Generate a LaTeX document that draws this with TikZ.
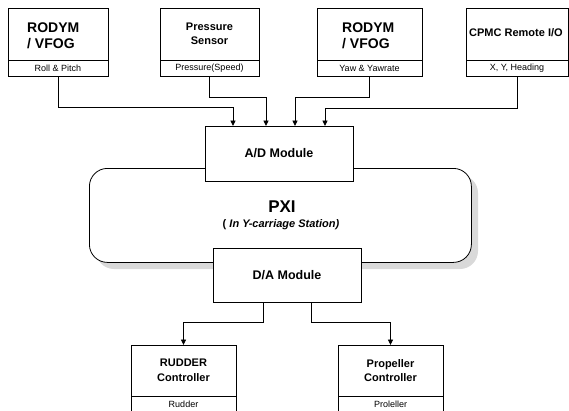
\documentclass[tikz,border=0pt]{standalone}
\usepackage{fontspec}
\setmainfont{Liberation Sans}
\usetikzlibrary{arrows.meta,positioning,calc}
\begin{document}
\begin{tikzpicture}[x=1pt,y=-1pt,
  box/.style={draw=black,line width=0.8pt,fill=white,anchor=north west,inner sep=0pt,outer sep=0pt},
  lbl/.style={font=\fontsize{9}{10}\selectfont,inner sep=0pt},
  arr/.style={line width=0.9pt,-{Triangle[length=5.5pt,width=5pt]}}
]
\useasboundingbox (0,0) rectangle (569,410);
% top boxes
\node[box,minimum width=100pt,minimum height=52pt] (b1) at (8,8) {};
\node[box,minimum width=100pt,minimum height=16pt] (s1) at (8,60) {};
\node[box,minimum width=99pt,minimum height=52pt] (b2) at (160,8) {};
\node[box,minimum width=99pt,minimum height=16pt] (s2) at (160,60) {};
\node[box,minimum width=105pt,minimum height=52pt] (b3) at (317,8) {};
\node[box,minimum width=105pt,minimum height=16pt] (s3) at (317,60) {};
\node[box,minimum width=102pt,minimum height=52pt] (b4) at (466,8) {};
\node[box,minimum width=102pt,minimum height=16pt] (s4) at (466,60) {};
% texts top
\node[anchor=west,align=left,inner sep=0pt,font=\fontsize{14}{16}\selectfont\bfseries] (t1) at (27,36) {RODYM\\/ VFOG};
\node[align=center,inner sep=0pt,font=\fontsize{11}{14}\selectfont\bfseries] (t2) at (209.5,34) {Pressure\\Sensor};
\node[anchor=west,align=left,inner sep=0pt,font=\fontsize{14}{16}\selectfont\bfseries] (t3) at (342,36) {RODYM\\/ VFOG};
\node[anchor=west,inner sep=0pt,font=\fontsize{11}{12}\selectfont\bfseries] (t4) at (469,33) {CPMC Remote I/O};
\node[lbl] at (s1.center) {Roll \& Pitch};
\node[lbl] at (s2.center) {Pressure(Speed)};
\node[lbl] at (s3.center) {Yaw \& Yawrate};
\node[lbl] at (s4.center) {X, Y, Heading};
% PXI
\fill[gray!30,rounded corners=18pt] (96,175) rectangle (478,269);
\node[draw=black,line width=0.8pt,fill=white,rounded corners=18pt,anchor=north west,inner sep=0pt,minimum width=382pt,minimum height=94pt] (pxi) at (89,168) {};
\node[inner sep=0pt,font=\fontsize{17}{20}\selectfont\bfseries] (pt) at (282,207) {PXI};
\node[inner sep=0pt,font=\fontsize{11}{13}\selectfont\bfseries] (ps) at (281,225) {( \itshape In Y-carriage Station)};
% modules
\node[box,minimum width=148pt,minimum height=55pt] (ad) at (205,126) {};
\node[font=\fontsize{12.5}{14}\selectfont\bfseries,inner sep=0pt] at (ad.center) {A/D Module};
\node[box,minimum width=148pt,minimum height=54pt] (da) at (213,248) {};
\node[font=\fontsize{12.5}{14}\selectfont\bfseries,inner sep=0pt] at (da.center) {D/A Module};
% bottom boxes
\node[box,minimum width=105pt,minimum height=51pt] (rud) at (131,345) {};
\node[box,minimum width=105pt,minimum height=18pt] (rs) at (131,396) {};
\node[box,minimum width=105pt,minimum height=51pt] (pro) at (338,345) {};
\node[box,minimum width=105pt,minimum height=18pt] (prs) at (338,396) {};
\node[align=center,inner sep=0pt,font=\fontsize{11}{14.5}\selectfont\bfseries] at (rud.center) {RUDDER\\Controller};
\node[align=center,inner sep=0pt,font=\fontsize{11}{14.5}\selectfont\bfseries] at (pro.center) {Propeller\\Controller};
\node[lbl,anchor=center] at (183.5,404) {Rudder};
\node[lbl,anchor=center] at (390.5,404) {Proleller};
% connectors
\draw[arr] (s1.south) -- ++(0,31) -| ([xshift=28pt]ad.north west);
\draw[arr] (s2.south) -- ++(0,21) -| ([xshift=61pt]ad.north west);
\draw[arr] (s3.south) -- ++(0,21) -| ([xshift=90pt]ad.north west);
\draw[arr] (s4.south) -- ++(0,32) -| ([xshift=120pt]ad.north west);
\draw[arr] ([xshift=50pt]da.south west) -- ++(0,20) -| (rud.north);
\draw[arr] ([xshift=98pt]da.south west) -- ++(0,20) -| (pro.north);
\end{tikzpicture}
\end{document}
